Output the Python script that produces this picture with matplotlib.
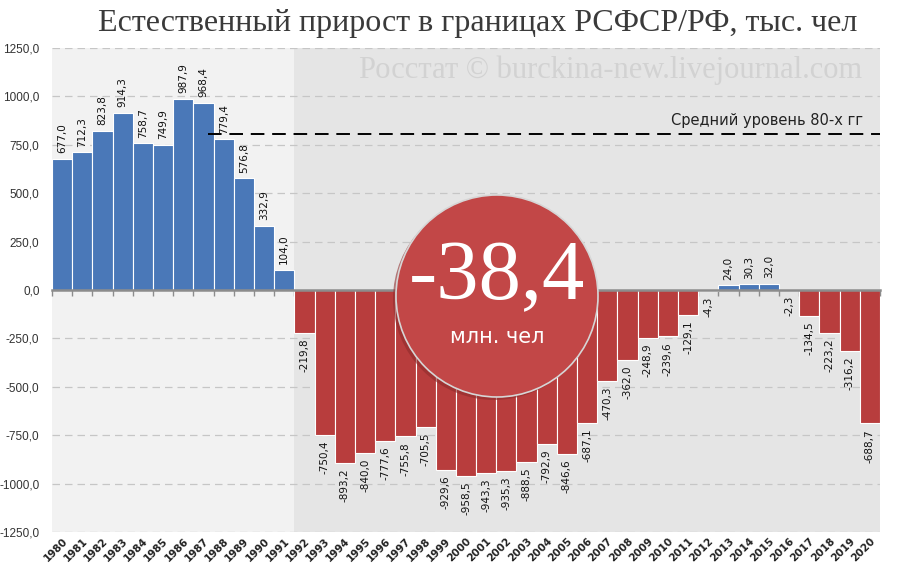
import matplotlib
matplotlib.use("Agg")
import matplotlib.pyplot as plt
import matplotlib.patches as mpatches
from matplotlib.ticker import FuncFormatter, FixedLocator

years = list(range(1980, 2021))
values = [677.0, 712.3, 823.8, 914.3, 758.7, 749.9, 987.9, 968.4, 779.4, 576.8,
          332.9, 104.0, -219.8, -750.4, -893.2, -840.0, -777.6, -755.8, -705.5, -929.6,
          -958.5, -943.3, -935.3, -888.5, -792.9, -846.6, -687.1, -470.3, -362.0, -248.9,
          -239.6, -129.1, -4.3, 24.0, 30.3, 32.0, -2.3, -134.5, -223.2, -316.2, -688.7]
avg80_level = 805.0
total_text = "-38,4"
total_unit = "млн. чел"
title = "Естественный прирост в границах РСФСР/РФ, тыс. чел"
watermark = "Росстат © burckina-new.livejournal.com"
avg_label = "Средний уровень 80-х гг"
yticks = [-1250, -1000, -750, -500, -250, 0, 250, 500, 750, 1000, 1250]

BLUE = "#4a78b8"
RED = "#b83d3d"

fig = plt.figure(figsize=(9, 5.73), dpi=100)
fig.patch.set_facecolor("white")
ax = fig.add_axes([52/900, 1-532/573, (880-52)/900, (532-48)/573])
ax.set_facecolor("#f2f2f2")

n = len(years)
x = list(range(n))
split = years.index(1992)
ax.axvspan(split - 0.5, n - 0.5, color="#e5e5e5", zorder=0, lw=0)

colors = [BLUE if v >= 0 else RED for v in values]
ax.bar(x, values, width=1.0, color=colors, edgecolor="white", linewidth=0.8, zorder=3)

ax.set_xlim(-0.5, n - 0.5)
ax.set_ylim(-1250, 1250)

# grid
for t in yticks:
    if t != 0:
        ax.axhline(t, color="#c6c6c6", lw=0.9, ls=(0, (6, 4)), zorder=1)

# zero line with boundary ticks
ax.spines[["top", "right", "left"]].set_visible(False)
ax.spines["bottom"].set_position(("data", 0))
ax.spines["bottom"].set_color("#8c8c8c")
ax.spines["bottom"].set_linewidth(1.8)
ax.spines["bottom"].set_zorder(4)
ax.xaxis.set_major_locator(FixedLocator([i + 0.5 for i in range(-1, n)]))
ax.tick_params(axis="x", which="major", length=4, color="#8c8c8c", width=1,
               labelbottom=False, direction="out")

ax.set_yticks(yticks)
ax.yaxis.set_major_formatter(FuncFormatter(lambda v, p: f"{v:.1f}".replace(".", ",")))
ax.tick_params(axis="y", length=0, pad=9, labelsize=8.5, labelcolor="#333333")
for lab in ax.get_yticklabels():
    lab.set_family("Liberation Sans")

sec = ax.secondary_xaxis("bottom")
sec.set_xticks(x)
sec.set_xticklabels([str(y) for y in years], rotation=45, ha="right",
                    rotation_mode="anchor", fontsize=7.5, fontweight="bold", color="#222222")
sec.tick_params(length=0, pad=3)
sec.spines["bottom"].set_visible(False)

# value labels
for xi, v in zip(x, values):
    s = f"{v:.1f}".replace(".", ",")
    if v >= 0:
        ax.annotate(s, (xi, v), xytext=(0, 4), textcoords="offset points",
                    rotation=90, ha="center", va="bottom", fontsize=7.5, color="#111111", zorder=5)
    else:
        ax.annotate(s, (xi, v), xytext=(0, -4), textcoords="offset points",
                    rotation=90, ha="center", va="top", fontsize=7.5, color="#111111", zorder=5)

# 80s average line
start = years.index(1987) + 0.2
ax.plot([start, n - 0.5], [avg80_level, avg80_level], color="black", lw=1.4,
        ls=(0, (7, 4)), zorder=4)
ax.text(0.98, (avg80_level + 1250) / 2500 + 0.012, avg_label, transform=ax.transAxes,
        ha="right", va="bottom", fontsize=10.5, color="#222222", zorder=5)

# watermark
ax.text(0.978, 0.955, watermark, transform=ax.transAxes, ha="right", va="center",
        fontsize=22, family="Liberation Serif", color="#d2d2d2", zorder=2)

# title
fig.text(478/900, 1-23/573, title, ha="center", va="center", fontsize=23,
         family="Liberation Serif", color="#3a3a3a")

# circle
cx, cy, r = 497, 296, 101
W, H = 900, 573
shadow = mpatches.Ellipse(((cx - 3)/W, 1 - (cy + 3)/H), 2*r/W, 2*r/H,
                          transform=fig.transFigure, facecolor="#8f2c2c", alpha=0.6,
                          edgecolor="none", zorder=10)
circ = mpatches.Ellipse((cx/W, 1 - cy/H), 2*r/W, 2*r/H, transform=fig.transFigure,
                        facecolor="#c24747", edgecolor="#d6d6d6", linewidth=1.2, zorder=11)
fig.patches.extend([shadow, circ])
fig.text(497/W, 1 - 279/H, total_text, ha="center", va="center", fontsize=61,
         family="Liberation Serif", color="white", zorder=12)
fig.text(497/W, 1 - 337/H, total_unit, ha="center", va="center", fontsize=15,
         color="white", zorder=12)

fig.savefig("out.png", dpi=100)
